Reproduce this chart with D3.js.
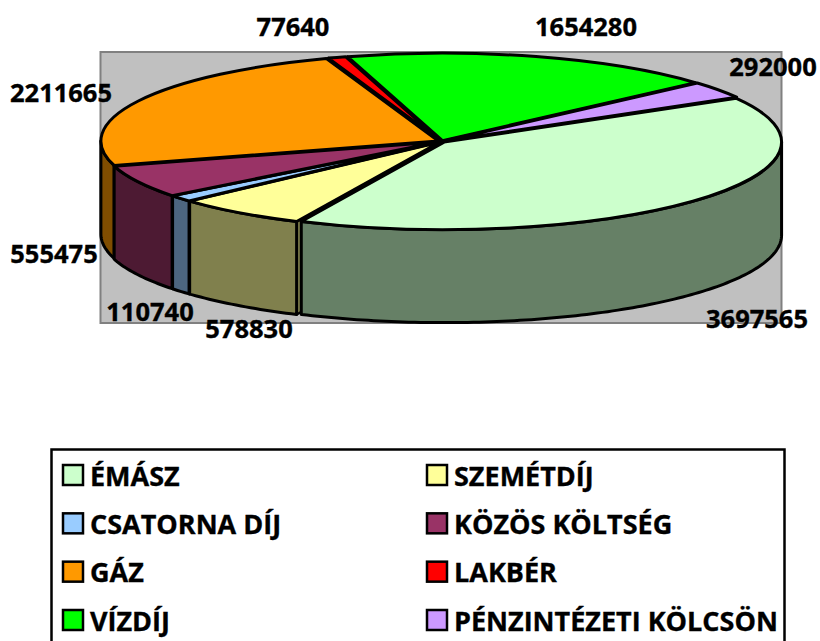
<!DOCTYPE html>
<html><head><meta charset="utf-8">
<script src="https://cdn.jsdelivr.net/npm/d3@7"></script>
<style>html,body{margin:0;padding:0;background:#fff;overflow:hidden}svg{display:block}
text{font-family:"Open Sans",sans-serif;font-weight:700;fill:#000;stroke:#000;stroke-width:.35px}</style>
</head><body><svg id="c" width="820" height="641"></svg>
<script>
const categories = ["ÉMÁSZ","SZEMÉTDÍJ","CSATORNA DÍJ","KÖZÖS KÖLTSÉG","GÁZ","LAKBÉR","VÍZDÍJ","PÉNZINTÉZETI KÖLCSÖN"];
const values = [3697565,578830,110740,555475,2211665,77640,1654280,292000];
const colors = ["#CCFFCC","#FFFF99","#99CCFF","#993366","#FF9900","#FF0000","#00FF00","#CC99FF"];
const labelX = [757,249,150,54,61,293,586,773];
const labelY = [319,329,312,254,93,27,27,67];

const svg = d3.select("#c");
const cx=441.5, cy=141.5, rx=337.5, ry=87.5, depth=93, explode=3.5, ratio=ry/rx;
const color = d3.scaleOrdinal(categories, colors);
const deg = Math.PI/180;
const pie = d3.pie().value(d=>d).sort(null).startAngle(60*deg).endAngle(420*deg);
const arcs = pie(values).map((a,i)=>{
  const mid=(a.startAngle+a.endAngle)/2;
  return {...a,name:categories[i],mid,ox:explode*Math.sin(mid),oy:-explode*Math.cos(mid)*ratio};
});
const dark = c=>{const k=d3.rgb(c);return d3.rgb(k.r*.5,k.g*.5,k.b*.5).formatHex();};
const px=a=>rx*Math.sin(a), py=a=>-ry*Math.cos(a);

svg.append("rect").attr("x",100.5).attr("y",52).attr("width",681).attr("height",271)
  .attr("fill","#C0C0C0").attr("stroke","#808080").attr("stroke-width",2);

const line=d3.line();
const facesG=svg.append("g"), wallsG=svg.append("g");
const byDepth=[...arcs].sort((a,b)=>(-Math.cos(a.mid))-(-Math.cos(b.mid)));
byDepth.forEach(d=>{
  const shift=`translate(${cx+d.ox},${cy+d.oy})`;
  const fill=dark(color(d.name));
  // radial cut faces that look towards the viewer
  [[d.startAngle,-1],[d.endAngle,1]].forEach(([a,side])=>{
    if(side*Math.sin(a)<=0) return;
    const p=[[0,0],[px(a),py(a)],[px(a),py(a)+depth],[0,depth]];
    facesG.append("path").attr("transform",shift).attr("d",line(p)+"Z").attr("fill",fill)
      .attr("stroke","#000").attr("stroke-width",2.5).attr("stroke-linejoin","round");
  });
  // outer wall, only the part that faces the viewer
  const lo=Math.PI/2, hi=3*Math.PI/2;
  for(const turn of [0,2*Math.PI]){
    const s=Math.max(d.startAngle,lo+turn), e=Math.min(d.endAngle,hi+turn);
    if(e<=s) continue;
    const steps=d3.range(s,e,deg).concat([e]);
    const top=steps.map(a=>[px(a),py(a)]);
    const bot=steps.slice().reverse().map(a=>[px(a),py(a)+depth]);
    wallsG.append("path").attr("transform",shift).attr("d",line(top.concat(bot))+"Z").attr("fill",fill)
      .attr("stroke","#000").attr("stroke-width",3).attr("stroke-linejoin","round");
  }
});

const arc=d3.arc().innerRadius(0).outerRadius(rx);
const topG=svg.append("g");
arcs.forEach(d=>{
  topG.append("g").attr("transform",`translate(${cx+d.ox},${cy+d.oy}) scale(1,${ratio})`)
   .append("path").attr("d",arc(d)).attr("fill",color(d.name)).attr("stroke","#000")
   .attr("stroke-width",3).attr("stroke-linejoin","round").attr("vector-effect","non-scaling-stroke");
});

values.forEach((v,i)=>{
  svg.append("text").attr("x",labelX[i]).attr("y",labelY[i]).attr("dy","0.36em")
   .attr("text-anchor","middle").attr("font-size",25.5).text(v);
});

// legend
svg.append("rect").attr("x",51.5).attr("y",449.5).attr("width",733).attr("height",220)
  .attr("fill","#fff").attr("stroke","#000").attr("stroke-width",2.5);
const colX=d3.scaleOrdinal([0,1],[63,427]);
const rowY=d3.scalePoint([0,1,2,3],[475,620]);
categories.forEach((c,i)=>{
  const x=colX(i%2), y=rowY(Math.floor(i/2));
  svg.append("rect").attr("x",x).attr("y",y-10).attr("width",20).attr("height",20)
    .attr("fill",color(c)).attr("stroke","#000").attr("stroke-width",2.5);
  svg.append("text").attr("x",x+27).attr("y",y+1).attr("dy","0.36em").attr("font-size",27).text(c);
});
</script></body></html>
